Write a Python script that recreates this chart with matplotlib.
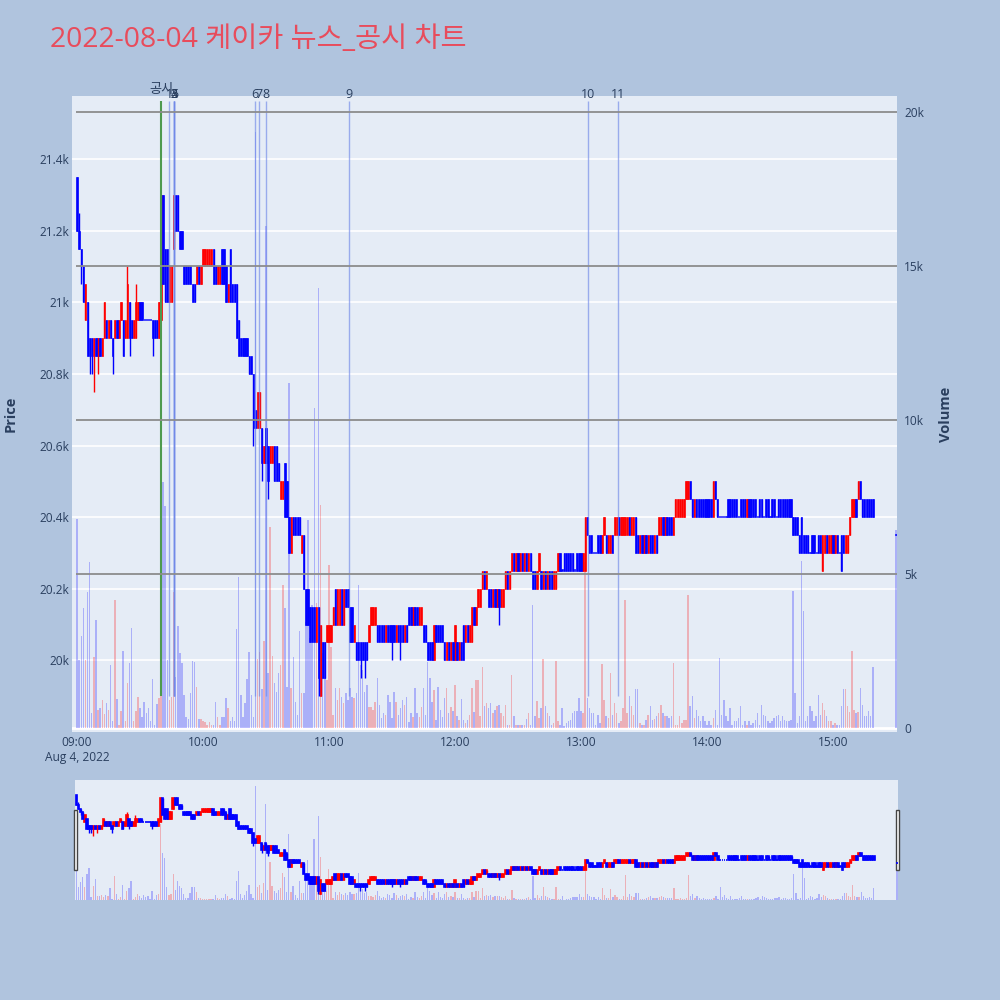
import matplotlib.pyplot as plt
import matplotlib.transforms as mtransforms
from matplotlib.patches import Rectangle

plt.rcParams['font.family'] = ['Open Sans', 'Noto Sans CJK KR', 'DejaVu Sans']

# minutes since 09:00 (one candle per minute, last one is the 15:30 close)
minutes = list(range(380)) + [390]

opens = [
    21350, 21200, 21150, 21100, 20950, 21000, 20900, 20900, 20850, 20900,
    20850, 20900, 20850, 20900, 20950, 20900, 20950, 20900, 20900, 20950,
    20900, 20950, 20950, 20900, 20900, 21000, 20950, 20900, 20900, 20950,
    21000, 21000, 20950, 20950, 20950, 20950, 20950, 20950, 20950, 20900,
    20950, 21300, 21150, 21150, 21000, 21000, 21150, 21300, 21300, 21200,
    21200, 21100, 21100, 21100, 21100, 21050, 21050, 21050, 21100, 21050,
    21100, 21100, 21100, 21100, 21100, 21150, 21100, 21050, 21050, 21150,
    21150, 21100, 21000, 21150, 21050, 21050, 21050, 20950, 20900, 20900,
    20900, 20900, 20850, 20850, 20800, 20700, 20650, 20650, 20650, 20550,
    20650, 20600, 20550, 20550, 20600, 20600, 20550, 20450, 20450, 20550,
    20500, 20400, 20300, 20400, 20400, 20400, 20400, 20300, 20350, 20200,
    20200, 20150, 20150, 20150, 20050, 20150, 19900, 20050, 20050, 20050,
    20050, 20050, 20100, 20200, 20100, 20100, 20200, 20100, 20200, 20200,
    20150, 20150, 20050, 20050, 20050, 20050, 20050, 20050, 20050, 20050,
    20100, 20100, 20100, 20100, 20100, 20100, 20100, 20050, 20100, 20100,
    20100, 20100, 20050, 20100, 20100, 20100, 20050, 20100, 20150, 20150,
    20100, 20150, 20150, 20100, 20100, 20100, 20100, 20050, 20050, 20050,
    20000, 20100, 20100, 20100, 20100, 20050, 20000, 20050, 20000, 20050,
    20000, 20050, 20000, 20050, 20100, 20050, 20100, 20050, 20050, 20150,
    20100, 20150, 20150, 20200, 20250, 20200, 20200, 20200, 20150, 20200,
    20150, 20200, 20150, 20150, 20200, 20250, 20200, 20250, 20300, 20250,
    20300, 20250, 20300, 20250, 20300, 20250, 20300, 20250, 20250, 20200,
    20250, 20250, 20200, 20250, 20200, 20250, 20250, 20200, 20200, 20250,
    20300, 20250, 20300, 20300, 20300, 20300, 20300, 20250, 20300, 20300,
    20300, 20250, 20250, 20400, 20350, 20350, 20300, 20300, 20350, 20350,
    20300, 20350, 20350, 20300, 20300, 20350, 20350, 20350, 20400, 20350,
    20350, 20350, 20350, 20400, 20350, 20350, 20400, 20350, 20300, 20350,
    20300, 20350, 20300, 20350, 20350, 20300, 20350, 20350, 20350, 20400,
    20350, 20400, 20400, 20400, 20350, 20400, 20400, 20400, 20400, 20400,
    20450, 20450, 20500, 20450, 20400, 20450, 20450, 20450, 20450, 20450,
    20450, 20450, 20450, 20400, 20500, 20450, 20400, 20400, 20400, 20400,
    20450, 20450, 20450, 20450, 20450, 20400, 20450, 20450, 20450, 20400,
    20450, 20450, 20450, 20450, 20400, 20450, 20450, 20400, 20450, 20450,
    20400, 20450, 20450, 20400, 20450, 20450, 20450, 20450, 20450, 20450,
    20450, 20400, 20400, 20400, 20350, 20400, 20350, 20350, 20350, 20300,
    20350, 20350, 20300, 20350, 20350, 20250, 20300, 20350, 20300, 20300,
    20350, 20300, 20350, 20300, 20350, 20350, 20300, 20300, 20350, 20400,
    20400, 20450, 20450, 20500, 20450, 20450, 20450, 20450, 20450, 20450,
    20350,
]

closes = [
    21200, 21150, 21100, 21000, 21050, 20850, 20850, 20850, 20900, 20850,
    20900, 20850, 20900, 21000, 20900, 20950, 20900, 20850, 20950, 20900,
    20950, 21000, 20850, 20950, 21050, 20900, 20900, 20950, 21000, 21000,
    20950, 20950, 20950, 20950, 20950, 20950, 20900, 20900, 20900, 21000,
    21300, 21050, 21000, 21000, 21100, 21100, 21300, 21200, 21200, 21150,
    21150, 21050, 21050, 21050, 21050, 21000, 21000, 21100, 21050, 21100,
    21150, 21150, 21150, 21150, 21150, 21050, 21050, 21100, 21100, 21050,
    21050, 21000, 21050, 21000, 21000, 21000, 20900, 20850, 20850, 20850,
    20850, 20850, 20800, 20800, 20650, 20650, 20750, 20750, 20550, 20600,
    20550, 20500, 20600, 20600, 20500, 20500, 20500, 20500, 20500, 20400,
    20400, 20300, 20400, 20350, 20350, 20350, 20350, 20350, 20200, 20100,
    20100, 20050, 20050, 20050, 20150, 19950, 20100, 19950, 19950, 20100,
    20100, 20100, 20150, 20100, 20200, 20200, 20100, 20200, 20150, 20150,
    20050, 20050, 20100, 20000, 20000, 20000, 20000, 20000, 20000, 20100,
    20150, 20150, 20150, 20050, 20050, 20050, 20050, 20100, 20050, 20050,
    20050, 20050, 20100, 20050, 20050, 20050, 20100, 20050, 20100, 20100,
    20150, 20100, 20100, 20150, 20150, 20050, 20050, 20000, 20000, 20000,
    20100, 20050, 20050, 20050, 20050, 20000, 20050, 20000, 20050, 20000,
    20100, 20000, 20050, 20000, 20000, 20100, 20050, 20100, 20150, 20100,
    20150, 20200, 20200, 20250, 20200, 20250, 20150, 20150, 20200, 20150,
    20200, 20150, 20200, 20200, 20250, 20200, 20250, 20300, 20250, 20300,
    20250, 20300, 20250, 20300, 20250, 20300, 20250, 20200, 20200, 20250,
    20300, 20200, 20250, 20200, 20250, 20200, 20200, 20250, 20250, 20300,
    20250, 20250, 20250, 20250, 20250, 20250, 20250, 20250, 20250, 20250,
    20250, 20300, 20400, 20350, 20300, 20300, 20300, 20300, 20300, 20300,
    20350, 20400, 20300, 20350, 20350, 20300, 20400, 20400, 20350, 20400,
    20400, 20400, 20400, 20350, 20400, 20400, 20300, 20300, 20350, 20300,
    20350, 20300, 20350, 20300, 20300, 20350, 20300, 20400, 20400, 20350,
    20400, 20350, 20350, 20350, 20400, 20450, 20450, 20450, 20450, 20450,
    20500, 20500, 20450, 20400, 20450, 20400, 20400, 20400, 20400, 20400,
    20400, 20400, 20400, 20500, 20450, 20400, 20400, 20400, 20400, 20400,
    20400, 20400, 20400, 20400, 20400, 20400, 20400, 20400, 20400, 20450,
    20400, 20400, 20400, 20400, 20400, 20400, 20400, 20400, 20400, 20400,
    20400, 20400, 20400, 20400, 20400, 20400, 20400, 20400, 20400, 20400,
    20400, 20350, 20350, 20350, 20300, 20300, 20300, 20300, 20300, 20300,
    20300, 20300, 20300, 20300, 20300, 20350, 20350, 20300, 20350, 20350,
    20300, 20350, 20300, 20300, 20250, 20300, 20350, 20350, 20400, 20450,
    20450, 20400, 20500, 20450, 20400, 20400, 20400, 20400, 20400, 20400,
    20350,
]

volumes = [
    6800, 2200, 3000, 3900, 2200, 4400, 5400, 500, 2300, 3500,
    600, 650, 900, 450, 800, 600, 2050, 230, 4150, 950,
    110, 550, 2500, 230, 1450, 2100, 3250, 230, 550, 1000,
    650, 350, 850, 500, 650, 230, 1600, 110, 780, 970,
    13000, 8000, 7200, 2200, 900, 1000, 4400, 1650, 3300, 2450,
    2100, 1070, 350, 290, 1130, 2180, 2150, 1320, 290, 290,
    230, 200, 100, 200, 100, 100, 840, 350, 110, 350,
    350, 960, 650, 230, 350, 230, 3230, 4900, 1060, 350,
    820, 1600, 2470, 1070, 370, 19350, 2230, 2470, 1260, 2830,
    16300, 1770, 6530, 2350, 1460, 1180, 1770, 2050, 4650, 3890,
    1320, 11200, 1290, 2320, 860, 420, 3150, 1130, 1130, 3450,
    6750, 2910, 3990, 10380, 4050, 14300, 7240, 2420, 1610, 1560,
    5290, 2640, 420, 1290, 910, 1290, 1020, 800, 1130, 910,
    1290, 1020, 960, 1130, 4640, 2050, 1880, 1180, 1400, 690,
    690, 580, 860, 1610, 750, 310, 480, 420, 1070, 860,
    310, 1180, 860, 420, 640, 910, 750, 1020, 210, 480,
    370, 1290, 480, 370, 690, 1290, 420, 2150, 1610, 860,
    1230, 260, 1340, 580, 370, 960, 1290, 480, 690, 540,
    1400, 380, 270, 940, 270, 160, 270, 420, 1300, 510,
    1560, 1570, 380, 1980, 700, 810, 650, 810, 490, 600,
    700, 760, 490, 380, 760, 110, 110, 1710, 380, 110,
    90, 110, 110, 90, 300, 490, 110, 4000, 380, 870,
    330, 650, 2240, 700, 490, 380, 110, 160, 2170, 220,
    110, 650, 60, 160, 220, 270, 490, 540, 540, 970,
    540, 490, 5400, 970, 650, 490, 490, 110, 430, 160,
    2080, 920, 380, 330, 1790, 430, 810, 490, 160, 220,
    650, 4170, 490, 1030, 700, 430, 1270, 1270, 160, 110,
    110, 270, 430, 700, 270, 290, 380, 490, 760, 490,
    380, 380, 330, 380, 2110, 110, 110, 380, 160, 250,
    270, 4330, 700, 1030, 330, 600, 380, 220, 380, 220,
    110, 220, 110, 330, 600, 110, 2270, 430, 920, 380,
    220, 650, 110, 220, 220, 330, 700, 110, 220, 110,
    220, 110, 160, 270, 490, 110, 760, 430, 380, 220,
    160, 220, 330, 380, 430, 220, 380, 270, 220, 220,
    270, 4440, 1140, 160, 380, 5410, 3790, 220, 380, 700,
    540, 220, 380, 1080, 430, 810, 600, 380, 220, 220,
    110, 160, 110, 110, 700, 1250, 1250, 700, 510, 2490,
    600, 490, 520, 1290, 760, 380, 400, 540, 380, 1980,
    6430,
]

# wicks that reach beyond the body (index -> price)
wick_high = {0: 21350, 1: 21250, 24: 21100, 28: 21050}
wick_low = {2: 21050, 6: 20800, 7: 20800, 8: 20750, 10: 20800, 17: 20800,
            22: 20850, 25: 20850, 36: 20850, 84: 20600, 88: 20500, 91: 20450,
            115: 19900, 116: 19900, 135: 19950, 137: 19950, 150: 20000,
            154: 20000, 201: 20100, 355: 20250, 364: 20250}

# news / disclosure markers (minute, label)
disclosure_minute = 40
news_minutes = [44, 46.3, 46.3, 46.3, 46.3, 84.9, 86.5, 89.8, 129.5, 243.3, 257.6]
news_labels = ['1', '2', '3', '4', '5', '6', '7', '8', '9', '10', '11']

hour_ticks = [0, 60, 120, 180, 240, 300, 360]
hour_labels = ['09:00\nAug 4, 2022', '10:00', '11:00', '12:00', '13:00', '14:00', '15:00']
price_ticks = [20000, 20200, 20400, 20600, 20800, 21000, 21200, 21400]
price_labels = ['20k', '20.2k', '20.4k', '20.6k', '20.8k', '21k', '21.2k', '21.4k']
vol_ticks = [0, 5000, 10000, 15000, 20000]
vol_labels = ['0', '5k', '10k', '15k', '20k']

UP = '#FF0000'
DOWN = '#0000FF'
TXT = '#2a3f5f'
BG = '#E5ECF6'

highs = [max(o, c, wick_high.get(i, 0)) for i, (o, c) in enumerate(zip(opens, closes))]
lows = [min(o, c, wick_low.get(i, 99999)) for i, (o, c) in enumerate(zip(opens, closes))]
is_up = [c > o for o, c in zip(opens, closes)]


def draw_volume(axv, width):
    cols = [(1, 0, 0, 0.25) if u else (0, 0, 1, 0.25) for u in is_up]
    axv.bar(minutes, volumes, width=width, color=cols, linewidth=0, zorder=2)


def draw_candles(axp, width, lw):
    for up, col in [(True, UP), (False, DOWN)]:
        xs = [m for m, u in zip(minutes, is_up) if u == up]
        lo = [l for l, u in zip(lows, is_up) if u == up]
        hi = [h for h, u in zip(highs, is_up) if u == up]
        bot = [min(o, c) for o, c, u in zip(opens, closes, is_up) if u == up]
        hgt = [max(abs(c - o), 4) for o, c, u in zip(opens, closes, is_up) if u == up]
        axp.vlines(xs, lo, hi, color=col, lw=1, zorder=2)
        axp.bar(xs, hgt, bottom=bot, width=width, color=col, edgecolor=col,
                linewidth=lw, zorder=2)


fig = plt.figure(figsize=(10, 10), dpi=100, facecolor='#B0C4DE')

# main panel: volume axis underneath, price axis on top
ax = fig.add_axes([0.072, 0.268, 0.825, 0.636])
ax2 = ax.twinx()
ax.set_zorder(2)
ax2.set_zorder(1)
ax.patch.set_visible(False)
ax2.patch.set_visible(True)
ax2.patch.set_facecolor(BG)

xmin, xmax = -2.4, 390.5
ax.set_xlim(xmin, xmax)
ax.set_ylim(19800, 21576)
ax2.set_ylim(-130, 20520)

# price grid (under the volume bars)
tr_price = mtransforms.blended_transform_factory(ax2.transAxes, ax.transData)
ax2.hlines(price_ticks, 0, 1, transform=tr_price, color='white', lw=1.2, zorder=0.5)
ax2.axhline(0, color='white', lw=2, zorder=0.6)

draw_volume(ax2, 0.7)
draw_candles(ax, 0.62, 0.45)

# volume grid lines drawn over the candles
tr_vol = mtransforms.blended_transform_factory(ax.transData, ax2.transData)
ax.hlines(vol_ticks[1:], -0.5, xmax, transform=tr_vol, color='#8c8c8c', lw=1.3, zorder=4)

# event markers
top_y, bot_y = 21563, 19900
ax.vlines(news_minutes, bot_y, top_y, color='#7088e8', lw=1, alpha=0.65, zorder=3)
ax.vlines([disclosure_minute], bot_y, top_y, color='#4e9a4e', lw=1.5, zorder=3)
for m, lab in zip(news_minutes, news_labels):
    ax.text(m, top_y, lab, ha='center', va='bottom', fontsize=9, color=TXT, zorder=5)
ax.annotate('공시', (disclosure_minute, top_y), xytext=(0, 3), textcoords='offset points',
            ha='center', va='bottom', fontsize=9.5, color=TXT, zorder=5)

ax.set_xticks(hour_ticks)
ax.set_xticklabels(hour_labels)
ax.set_yticks(price_ticks)
ax.set_yticklabels(price_labels)
ax2.set_yticks(vol_ticks)
ax2.set_yticklabels(vol_labels)
ax.tick_params(axis='x', length=0, pad=3, labelsize=8.6, labelcolor=TXT)
ax.tick_params(axis='y', length=0, pad=2, labelsize=8.6, labelcolor=TXT)
ax2.tick_params(axis='y', length=0, pad=5, labelsize=8.6, labelcolor=TXT)
for a in (ax, ax2):
    for s in a.spines.values():
        s.set_visible(False)

fig.text(0.011, 0.586, 'Price', rotation=90, ha='center', va='center',
         fontsize=10.5, fontweight='bold', color=TXT)
fig.text(0.946, 0.586, 'Volume', rotation=90, ha='center', va='center',
         fontsize=10.5, fontweight='bold', color=TXT)
fig.text(0.05, 0.96, '2022-08-04 케이카 뉴스_공시 차트', ha='left', va='center',
         fontsize=20.4, color='#E84C5C')

# range slider
rs = fig.add_axes([0.0753, 0.100, 0.8227, 0.120])
rs2 = rs.twinx()
rs.set_zorder(2)
rs2.set_zorder(1)
rs.patch.set_visible(False)
rs2.patch.set_visible(True)
rs2.patch.set_facecolor(BG)
rs.set_xlim(-0.5, 390.5)
rs.set_ylim(19812, 21570)
rs2.set_ylim(0, 20400)
draw_volume(rs2, 0.6)
draw_candles(rs, 0.7, 1.2)
for a in (rs, rs2):
    a.set_xticks([])
    a.set_yticks([])
    for s in a.spines.values():
        s.set_visible(False)
for hx in (0.0735, 0.8955):
    fig.patches.append(Rectangle((hx, 0.130), 0.0035, 0.060, transform=fig.transFigure,
                                 facecolor='white', edgecolor='#444444', lw=1))

fig.savefig('out.png', dpi=100, facecolor=fig.get_facecolor())
